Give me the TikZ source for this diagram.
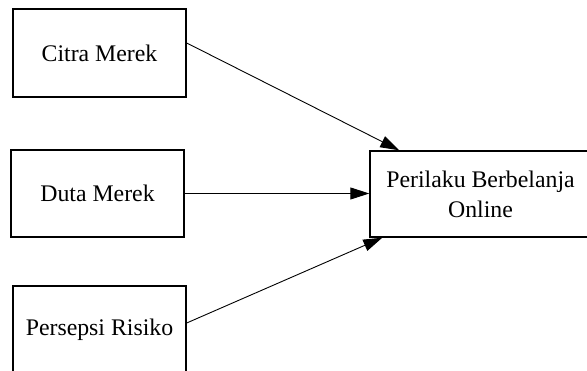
\documentclass[tikz,border=0pt]{standalone}
\usepackage{fontspec}
\setmainfont{Liberation Serif}
\usetikzlibrary{arrows.meta,calc}
\begin{document}
\begin{tikzpicture}[x=1pt,y=1pt,
  box/.style={draw=black,line width=1.4pt,minimum width=173pt,inner sep=0pt,
    font=\fontsize{23.8}{30}\selectfont,align=center},
  conn/.style={draw=black,line width=0.9pt,-{Triangle[length=19pt,width=12pt]}}]
\useasboundingbox (0,0) rectangle (587,371);
\begin{scope}
\clip (0,0) rectangle (587,371);
\node[box,minimum height=88pt] (citra) at (99.5,318) {Citra Merek};
\node[box,minimum height=87pt] (duta) at (97.5,177.5) {Duta Merek};
\node[box,minimum height=88pt] (risiko) at (99.5,41) {Persepsi Risiko};
\node[box,minimum width=221pt,minimum height=86pt] (pob) at (480.5,177) {Perilaku Berbelanja\\Online};
\end{scope}
\coordinate (a1s) at ($(citra.east)+(0,10)$);
\coordinate (a1e) at ($(pob.north west)+(30,0)$);
\coordinate (a3s) at ($(risiko.east)+(0,7)$);
\coordinate (a3e) at ($(pob.south west)+(13,0)$);
\draw[conn] (a1s) -- (a1e);
\draw[conn] (duta.east) -- (duta.east -| pob.west);
\draw[conn] (a3s) -- (a3e);
\end{tikzpicture}
\end{document}
